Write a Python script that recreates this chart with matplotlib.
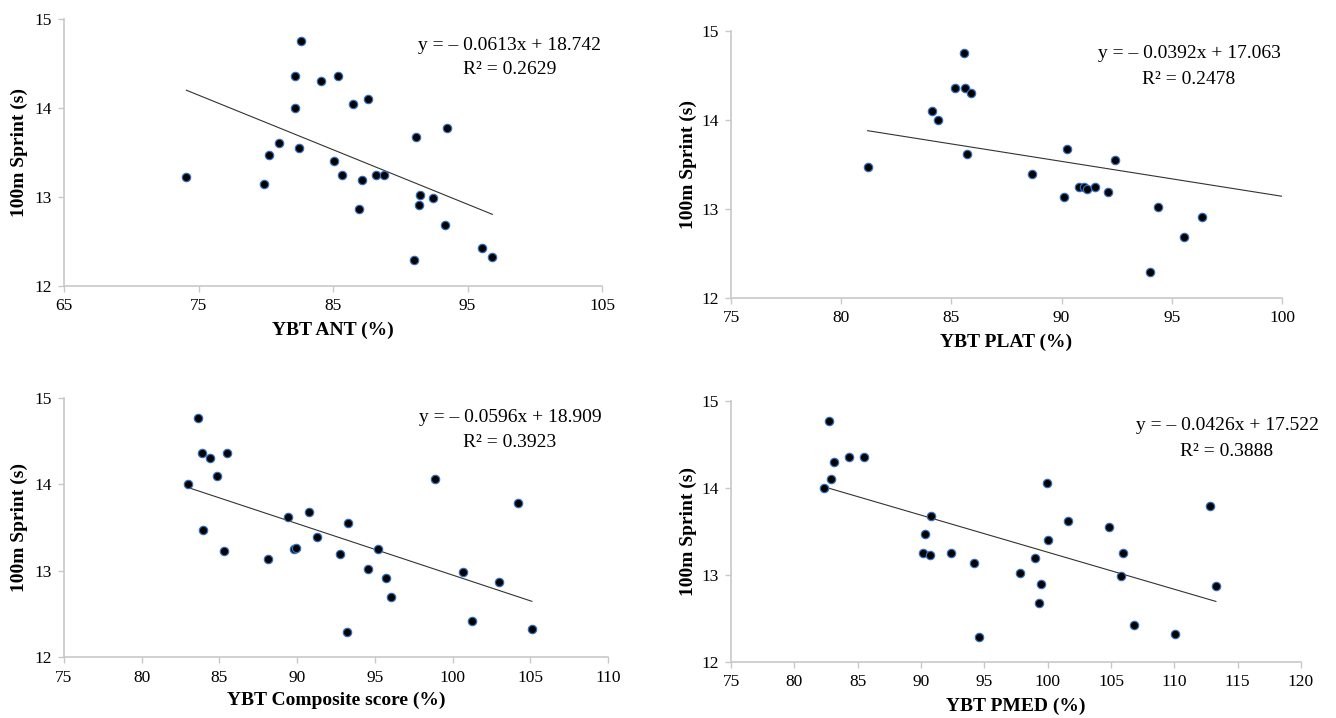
import numpy as np
import matplotlib
matplotlib.use('Agg')
import matplotlib.pyplot as plt

plt.rcParams['font.family'] = ['Liberation Serif', 'DejaVu Serif']

sprint_ylabel = '100m Sprint (s)'

# YBT ANT
ant_x = [74.1, 82.6, 82.15, 84.1, 85.35, 87.6, 86.5, 82.15, 81.0, 80.25, 82.5, 79.9, 85.1, 85.7,
         87.15, 88.2, 88.8, 86.9, 91.2, 93.5, 91.5, 91.4, 92.4, 93.35, 96.1, 96.85, 91.0]
ant_y = [13.23, 14.75, 14.36, 14.30, 14.36, 14.10, 14.05, 14.00, 13.61, 13.47, 13.55, 13.15, 13.40, 13.25,
         13.19, 13.25, 13.25, 12.87, 13.67, 13.77, 13.02, 12.91, 12.99, 12.68, 12.43, 12.33, 12.29]
ant_fit = (-0.0613, 18.742, 0.2629)

# YBT PLAT
plat_x = [81.2, 85.56, 85.15, 85.6, 85.9, 84.1, 84.4, 85.7, 90.26, 92.43, 88.66, 90.78, 91.03, 91.17,
          91.5, 92.1, 90.13, 94.36, 96.37, 95.54, 94.0]
plat_y = [13.47, 14.75, 14.36, 14.36, 14.30, 14.10, 14.00, 13.62, 13.67, 13.55, 13.39, 13.25, 13.25, 13.23,
          13.25, 13.19, 13.14, 13.02, 12.91, 12.68, 12.29]
plat_fit = (-0.0392, 17.063, 0.2478)

# YBT Composite
comp_x = [83.63, 83.9, 84.37, 85.5, 84.86, 82.97, 98.9, 104.2, 83.93, 89.4, 90.75, 93.27, 91.27, 85.3,
          88.1, 89.82, 89.9, 92.73, 95.2, 94.56, 95.74, 96.07, 100.7, 102.97, 93.2, 101.27, 105.1]
comp_y = [14.77, 14.36, 14.30, 14.36, 14.10, 14.00, 14.06, 13.78, 13.47, 13.62, 13.68, 13.55, 13.39, 13.23,
          13.14, 13.25, 13.26, 13.19, 13.25, 13.02, 12.91, 12.69, 12.99, 12.87, 12.29, 12.42, 12.32]
comp_fit = (-0.0596, 18.909, 0.3923)

# YBT PMED
pmed_x = [82.71, 84.33, 85.5, 83.1, 82.9, 82.37, 99.95, 112.8, 90.76, 101.57, 104.87, 90.29, 100.0, 90.15,
          90.69, 92.34, 105.98, 94.19, 99.0, 97.8, 105.77, 99.44, 113.28, 99.34, 106.8, 110.08, 94.56]
pmed_y = [14.77, 14.36, 14.36, 14.30, 14.10, 14.00, 14.06, 13.79, 13.68, 13.62, 13.55, 13.47, 13.40, 13.25,
          13.23, 13.25, 13.25, 13.14, 13.19, 13.02, 12.99, 12.90, 12.87, 12.68, 12.43, 12.32, 12.29]
pmed_fit = (-0.0426, 17.522, 0.3888)

W, H = 1336, 718
fig = plt.figure(figsize=(W / 100, H / 100), dpi=100)

def make_ax(x0, y0, x1, y1):
    return fig.add_axes([x0 / W, 1 - y1 / H, (x1 - x0) / W, (y1 - y0) / H])

panels = [
    # x, y, fit, xlabel, xlim, xticks, box (px), eq centre (px), ylabel right edge (px), line end
    (ant_x, ant_y, ant_fit, 'YBT ANT (%)', (65, 105), np.arange(65, 106, 10), (64, 19, 602, 286), (510, 45), 28, None),
    (plat_x, plat_y, plat_fit, 'YBT PLAT (%)', (75, 100), np.arange(75, 101, 5), (731, 31, 1282, 298), (1189, 54), 697, 100),
    (comp_x, comp_y, comp_fit, 'YBT Composite score (%)', (75, 110), np.arange(75, 111, 5), (64, 398, 608, 657), (510, 418), 28, None),
    (pmed_x, pmed_y, pmed_fit, 'YBT PMED (%)', (75, 120), np.arange(75, 121, 5), (731, 401, 1301, 662), (1227, 426), 697, None),
]

for xs, ys, fit, xlab, xlim, xt, box, eqc, ylx, xend in panels:
    ax = make_ax(*box)
    m, b, r2 = fit
    x0 = min(xs)
    x1 = xend if xend is not None else max(xs)
    lx = np.array([x0, x1])
    ax.plot(lx, m * lx + b, color='#333333', lw=0.8, zorder=2)
    ax.scatter(xs, ys, s=36, facecolor='black', edgecolor='#2f6fc0', linewidth=0.9, zorder=3)
    ax.set_xlim(*xlim)
    ax.set_ylim(12, 15)
    ax.set_xticks(xt)
    ax.set_yticks([12, 13, 14, 15])
    for s in ['top', 'right']:
        ax.spines[s].set_visible(False)
    for s in ['left', 'bottom']:
        ax.spines[s].set_color('#c8c8c8')
        ax.spines[s].set_linewidth(1.2)
    ax.tick_params(direction='out', length=4, width=1, color='#c8c8c8', labelsize=12.5, pad=5)
    ax.set_xlabel(xlab, fontsize=14, fontweight='bold')
    ax.set_ylabel(sprint_ylabel, fontsize=14, fontweight='bold')
    bx0, by0, bx1, by1 = box
    bw, bh = bx1 - bx0, by1 - by0
    ax.yaxis.set_label_coords((ylx - bx0) / bw, 0.5)
    ax.xaxis.set_label_coords(0.5, -0.135)
    ex, ey = eqc
    fx = (ex - bx0) / bw
    ax.text(fx, (by1 - ey) / bh, 'y = \u2013 %.4fx + %.3f' % (-m, b), transform=ax.transAxes,
            ha='center', va='center', fontsize=14)
    ax.text(fx, (by1 - ey - 25) / bh, 'R\u00b2 = %.4f' % r2, transform=ax.transAxes,
            ha='center', va='center', fontsize=14)

fig.savefig('out.png', dpi=100)
